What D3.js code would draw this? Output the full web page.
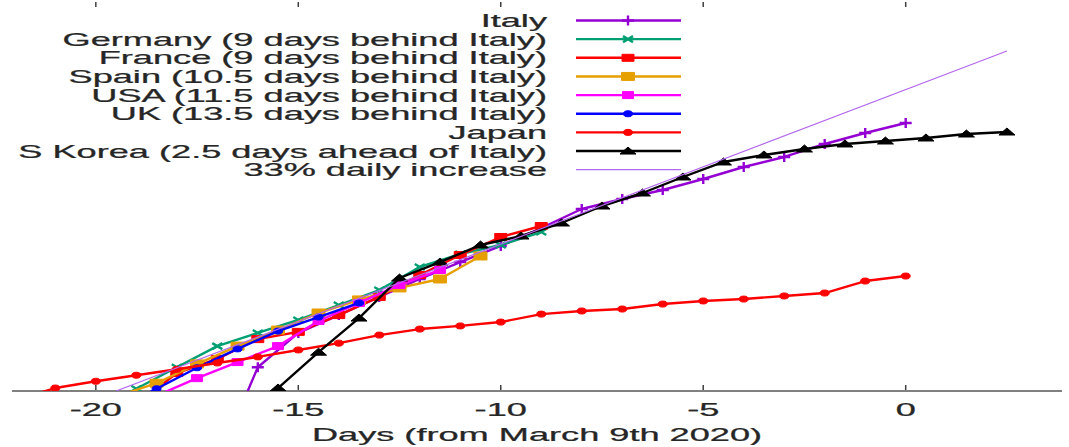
<!DOCTYPE html>
<html>
<head>
<meta charset="utf-8">
<script src="https://cdn.jsdelivr.net/npm/d3@7"></script>
<style>
	body { margin: 0; background: #fff; }
	svg { display: block; }
	text { font-family: 'Liberation Sans', Arial, sans-serif; font-size: 18px; fill: #262626; stroke: #262626; stroke-width: 0.25px; }
</style>
</head>
<body>
<script>
// Days from March 9th 2020, confirmed cases
const italyDays = [-17, -16, -15, -14, -13, -12, -11, -10, -9, -8, -7, -6, -5, -4, -3, -2, -1, 0]
const italyCases = [20, 112, 208, 287, 398, 550, 747, 997, 1380, 1943, 2327, 2738, 3338, 4144, 4964, 6275, 7650, 9162]
const germanyDays = [-20, -19, -18, -17, -16, -15, -14, -13, -12, -11, -10, -9]
const germanyCases = [52, 76, 112, 164, 208, 263, 344, 451, 683, 863, 1015, 1283]
const franceDays = [-19, -18, -17, -16, -15, -14, -13, -12, -11, -10, -9]
const franceCases = [57, 101, 130, 186, 212, 287, 398, 591, 848, 1173, 1430]
const spainDays = [-19.5, -18.5, -17.5, -16.5, -15.5, -14.5, -13.5, -12.5, -11.5, -10.5]
const spainCases = [66, 84, 119, 164, 219, 298, 377, 468, 550, 833]
const usaDays = [-18.5, -17.5, -16.5, -15.5, -14.5, -13.5, -12.5, -11.5]
const usaCases = [67, 92, 123, 164, 258, 357, 494, 647]
const ukDays = [-19.5, -18.5, -17.5, -16.5, -15.5, -14.5, -13.5]
const ukCases = [52, 76, 111, 156, 215, 277, 357]
const japanDays = [-22, -21, -20, -19, -18, -17, -16, -15, -14, -13, -12, -11, -10, -9, -8, -7, -6, -5, -4, -3, -2, -1, 0]
const japanCases = [62, 77, 87, 97, 108, 121, 135, 153, 173, 200, 223, 236, 253, 292, 309, 320, 350, 370, 383, 405, 427, 530, 580]
const koreaDays = [-16.5, -15.5, -14.5, -13.5, -12.5, -11.5, -10.5, -9.5, -8.5, -7.5, -6.5, -5.5, -4.5, -3.5, -2.5, -1.5, -0.5, 0.5, 1.5, 2.5]
const koreaCases = [40, 77, 147, 272, 560, 747, 1015, 1194, 1510, 2051, 2593, 3460, 4536, 5146, 5735, 6277, 6623, 6990, 7513, 7788]
const growthDays = [-19.5, 2.5]
const growthCases = [73, 33560]
const xTicks = [-20, -15, -10, -5, 0]

const names = ['Italy', 'Germany (9 days behind Italy)', 'France (9 days behind Italy)', 'Spain (10.5 days behind Italy)',
	'USA (11.5 days behind Italy)', 'UK (13.5 days behind Italy)', 'Japan', 'S Korea (2.5 days ahead of Italy)', '33% daily increase']
const colors = ['#9400d3', '#009e73', '#ff0000', '#e69f00', '#ff00ff', '#0000ff', '#ff0000', '#000000', '#b366ee']
const markers = ['plus', 'times', 'square', 'bigsquare', 'smallsquare', 'circle', 'circle', 'triangle', null]

const series = [
	[italyDays, italyCases], [germanyDays, germanyCases], [franceDays, franceCases], [spainDays, spainCases],
	[usaDays, usaCases], [ukDays, ukCases], [japanDays, japanCases], [koreaDays, koreaCases], [growthDays, growthCases],
].map(([days, cases], i) => ({
	name: names[i], color: colors[i], marker: markers[i],
	points: days.map((d, j) => [d, cases[j]]),
}))

const width = 1069, height = 447
const stretch = 2.01 // the picture is squashed vertically, so text and markers run wide
const svg = d3.select('body').append('svg').attr('width', width).attr('height', height)

const x = d3.scaleLinear().domain([-22.07, 3.86]).range([12, 1062])
const y = d3.scaleLog().domain([73, 76900]).range([391, 5])

svg.append('clipPath').attr('id', 'plot')
	.append('rect').attr('x', x.range()[0]).attr('y', 5).attr('width', x.range()[1] - x.range()[0]).attr('height', 386)

const markerPath = {
	plus: 'M-6,0H6M0,-5V5',
	times: 'M-5,-3L5,3M-5,3L5,-3',
	square: 'M-6,-3.5H6V3.5H-6Z',
	bigsquare: 'M-6.5,-4H6.5V4H-6.5Z',
	smallsquare: 'M-5.5,-3.5H5.5V3.5H-5.5Z',
	circle: 'M-4.5,0A4.5,3 0 1,0 4.5,0A4.5,3 0 1,0 -4.5,0Z',
	triangle: 'M-8,3L0,-4L8,3Z',
}
const drawMarker = (sel, s) => sel.append('path')
	.attr('d', markerPath[s.marker])
	.attr('fill', s.marker === 'plus' || s.marker === 'times' ? 'none' : s.color)
	.attr('stroke', s.color)
	.attr('stroke-width', s.marker === 'plus' || s.marker === 'times' ? 2.4 : 1)

// bottom axis
const axis = svg.append('g')
axis.append('line').attr('x1', x.range()[0]).attr('x2', x.range()[1]).attr('y1', 391).attr('y2', 391)
	.attr('stroke', '#808080').attr('stroke-width', 2)
axis.selectAll('line.tick').data(xTicks).join('line').classed('tick', true)
	.attr('x1', d => x(d)).attr('x2', d => x(d)).attr('y1', 390).attr('y2', 385)
	.attr('stroke', '#404040').attr('stroke-width', 1.5)
axis.selectAll('line.toptick').data(xTicks).join('line').classed('toptick', true)
	.attr('x1', d => x(d)).attr('x2', d => x(d)).attr('y1', 2).attr('y2', 7)
	.attr('stroke', '#404040').attr('stroke-width', 1.5)
axis.selectAll('text').data(xTicks).join('text')
	.attr('transform', d => `translate(${x(d)},416) scale(${stretch},1)`)
	.attr('text-anchor', 'middle')
	.text(d => d3.format('')(d).replace('−', '-'))
svg.append('text')
	.attr('transform', `translate(537,441) scale(${stretch},1)`)
	.attr('text-anchor', 'middle')
	.text('Days (from March 9th 2020)')

// series
const line = d3.line().x(d => x(d[0])).y(d => y(d[1]))
const plot = svg.append('g').attr('clip-path', 'url(#plot)')
series.forEach(s => {
	plot.append('path').datum(s.points)
		.attr('d', line)
		.attr('fill', 'none')
		.attr('stroke', s.color)
		.attr('stroke-width', s.marker ? 2.4 : 1.2)
		.attr('stroke-linejoin', 'round')
	if (s.marker) {
		plot.selectAll(null).data(s.points).join('g')
			.attr('transform', d => `translate(${x(d[0])},${y(d[1])})`)
			.each(function () { drawMarker(d3.select(this), s) })
	}
})

// legend
const legend = svg.append('g')
const item = legend.selectAll('g').data(series).join('g')
	.attr('transform', (_, i) => `translate(0,${20.5 + i * 18.65})`)
item.append('text')
	.attr('transform', `translate(547,6.5) scale(${stretch},1)`)
	.attr('text-anchor', 'end')
	.text(d => d.name)
item.append('line')
	.attr('x1', 576).attr('x2', 681)
	.attr('stroke', d => d.color)
	.attr('stroke-width', d => d.marker ? 2.4 : 1.2)
item.filter(d => d.marker).append('g')
	.attr('transform', 'translate(628,0)')
	.each(function (d) { drawMarker(d3.select(this), d) })
</script>
</body>
</html>
